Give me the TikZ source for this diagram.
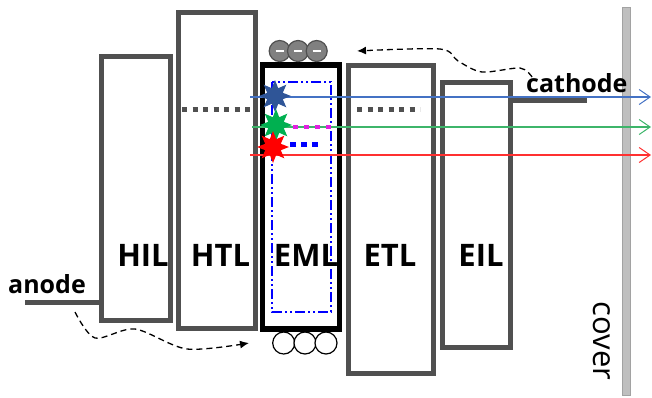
\documentclass[tikz,border=0pt]{standalone}
\usepackage{fontspec}
\setmainfont{Open Sans}
\usetikzlibrary{shapes.geometric,arrows.meta}
\definecolor{layergray}{HTML}{505050}
\definecolor{covergray}{HTML}{BFBFBF}
\definecolor{starblue}{HTML}{2F5597}
\definecolor{stargreen}{HTML}{00B050}
\definecolor{starred}{HTML}{FF0000}
\definecolor{rayblue}{HTML}{4472C4}
\definecolor{raygreen}{HTML}{3DB56A}
\definecolor{rayred}{HTML}{FF3030}
\definecolor{dotmagenta}{HTML}{E020E0}
\tikzset{
  layer/.style={draw=layergray, line width=5pt, inner sep=0pt, outer sep=0pt},
  layername/.style={font=\fontsize{31}{31}\selectfont\bfseries, anchor=base, inner sep=0pt},
  electrode/.style={font=\fontsize{25}{25}\selectfont\bfseries, anchor=base west, inner sep=0pt},
  emission/.style={line width=1.2pt, -{Straight Barb[length=11pt,width=15pt,line width=1pt]}},
  exciton/.style={star, star points=8, star point ratio=1.9, minimum size=32pt, inner sep=0pt},
  electron/.style={circle, draw=layergray, fill=gray, line width=1.2pt, minimum size=21pt, inner sep=0pt},
  hole/.style={circle, draw=black, fill=white, line width=1.2pt, minimum size=22pt, inner sep=0pt},
  carrierpath/.style={dash pattern=on 6pt off 4pt, line width=1.3pt, -{Latex[length=9pt,width=8pt]}},
  levels/.style={line width=5pt, dash pattern=on 5pt off 5.5pt}
}
\begin{document}
\begin{tikzpicture}[x=1pt, y=-1pt]
      \useasboundingbox (0,0) rectangle (652,397);
      % cover glass
      \fill[covergray, draw=covergray!85!black, line width=0.6pt] (622,7) rectangle (630,395);
      \node[font=\fontsize{31}{31}\selectfont, rotate=-90, inner sep=0pt] (covertext) at (602,341) {cover};

      % layer stack
      \node[layer, minimum width=69pt, minimum height=264pt] (hil) at (135.5,188) {};
      \node[layer, minimum width=76.5pt, minimum height=316pt] (htl) at (216.75,170) {};
      \node[layer, draw=black, line width=5.3pt, minimum width=77pt, minimum height=264pt] (eml) at (301,197) {};
      \node[layer, minimum width=85pt, minimum height=308.5pt] (etl) at (390.5,219.25) {};
      \node[layer, minimum width=67.5pt, minimum height=264.5pt] (eil) at (476.25,214.75) {};
      \draw[blue, line width=1.8pt, dash pattern=on 10pt off 3pt on 2pt off 3pt on 2pt off 3pt]
        (272,82) rectangle (331,312);

      \node[layername] (hiltext) at (143,266) {HIL};
      \node[layername] (htltext) at (220.5,266) {HTL};
      \node[layername] (emltext) at (306,266) {EML};
      \node[layername] (etltext) at (390,266) {ETL};
      \node[layername] (eiltext) at (481,266) {EIL};

      % energy levels
      \draw[levels, layergray] (182,109) -- (252,109);
      \draw[levels, layergray] (357,109) -- (420,109);

      % electrodes
      \coordinate (anodeend) at (25,302);
      \draw[layergray, line width=5pt] (anodeend) -- (anodeend -| hil.west);
      \node[electrode] (anode) at (8,293) {anode};
      \coordinate (cathodeend) at (587,100);
      \draw[layergray, line width=5pt] (cathodeend -| eil.east) -- (cathodeend);
      \node[electrode] (cathode) at (526,92) {cathode};

      % light out
      \coordinate (bluestart) at (250,97);
      \coordinate (blueend) at (651,97);
      \coordinate (greenstart) at (252,127);
      \coordinate (greenend) at (651,127);
      \coordinate (redstart) at (250,155);
      \coordinate (redend) at (651,155);
      \draw[emission, rayblue] (bluestart) -- (blueend);
      \draw[emission, raygreen] (greenstart) -- (greenend);
      \draw[emission, rayred] (redstart) -- (redend);
      \draw[line width=4pt, dotmagenta, dash pattern=on 5pt off 6pt] (293,126.5) -- (331,126.5);
      \draw[line width=5pt, blue, dash pattern=on 6pt off 5pt] (290,144) -- (318,144);
      \node[exciton, fill=starblue] (bluestar) at (275,96) {};
      \node[exciton, fill=stargreen] (greenstar) at (276,125) {};
      \node[exciton, fill=starred] (redstar) at (273,147) {};

      % carriers
      \node[electron] (e1) at (279.7,51) {\textcolor{white}{\rule[-1.2pt]{8pt}{2.5pt}}};
      \node[electron] (e2) at (298,51) {\textcolor{white}{\rule[-1.2pt]{8pt}{2.5pt}}};
      \node[electron] (e3) at (316.7,51) {\textcolor{white}{\rule[-1.2pt]{8pt}{2.5pt}}};
      \node[hole] (h1) at (283.7,343) {};
      \node[hole] (h2) at (305,343) {};
      \node[hole] (h3) at (326,343) {};

      % injection paths
      \coordinate (holestart) at (75,312);
      \coordinate (holeend) at (249,343);
      \draw[carrierpath] plot [smooth] coordinates
        {(holestart) (95,338) (135,329) (187,349) (holeend)};
      \coordinate (elecstart) at (532,77);
      \coordinate (elecend) at (357,51);
      \draw[carrierpath] plot [smooth] coordinates
        {(elecstart) (520,68) (482,72) (458,61) (440,49) (elecend)};
    \end{tikzpicture}
\end{document}
